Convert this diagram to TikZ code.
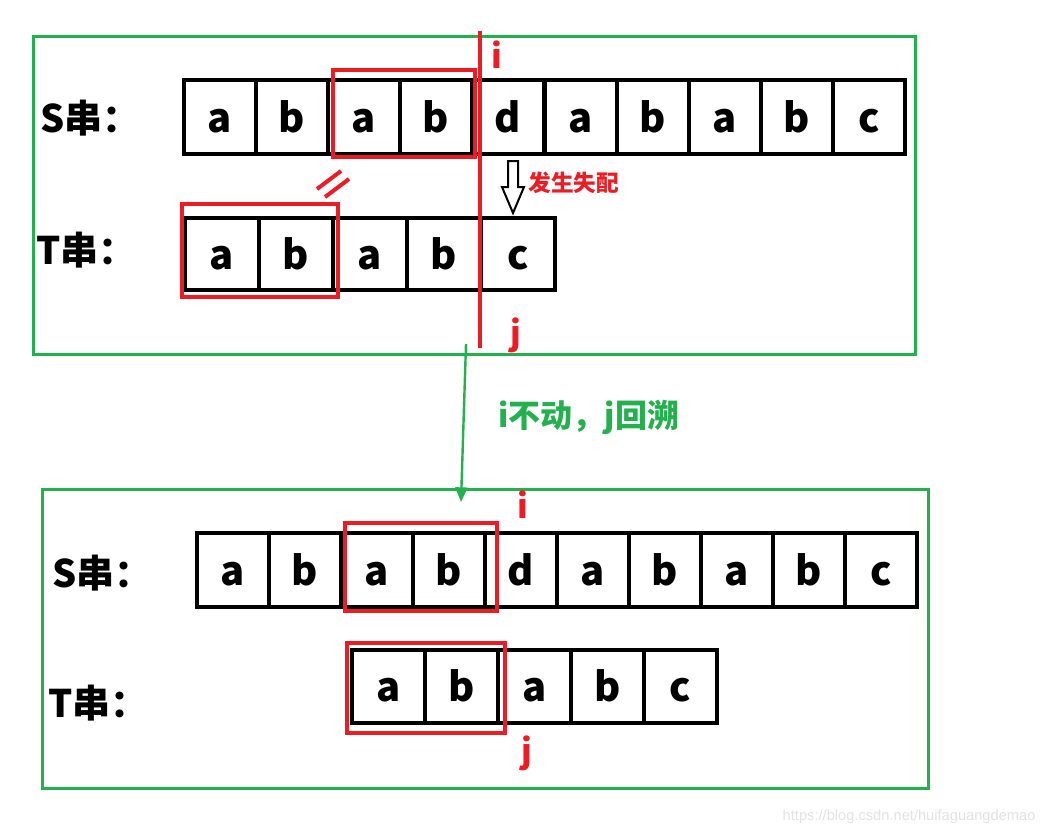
\documentclass[tikz,border=0pt]{standalone}
\usepackage{fontspec}
\setmainfont{Noto Sans CJK SC}
\newfontfamily\markfont{Liberation Sans}
\usetikzlibrary{arrows.meta,calc}

\definecolor{paintred}{RGB}{237,28,36}
\definecolor{paintgreen}{RGB}{34,177,76}
\definecolor{markgray}{RGB}{226,226,226}

\tikzset{every picture/.style={line width=0.75pt}}
\tikzset{
  cell/.style={draw, line width=3pt, minimum width=54pt, minimum height=55.5pt, inner sep=0pt,
    font=\bfseries\fontsize{30}{30}\selectfont, text height=22.5pt, text depth=0pt},
  tcell/.style={cell, minimum width=55.5pt, minimum height=54pt},
  btcell/.style={cell, minimum width=54.75pt, minimum height=54.75pt},
  strlabel/.style={anchor=west, inner sep=0pt, font=\bfseries\fontsize{28.5}{28.5}\selectfont},
  pointer/.style={inner sep=0pt, text=paintred, font=\bfseries\fontsize{25}{25}\selectfont},
  matchbox/.style={draw=paintred, line width=3pt},
  stepframe/.style={draw=paintgreen, line width=2.25pt},
}

\begin{document}
\begin{tikzpicture}[x=0.75pt,y=0.75pt,yscale=-1,xscale=1]
\useasboundingbox (0,0) rectangle (1045,836); %set diagram to the size of the screenshot

%Shape: Rectangle [green frames]
\draw[stepframe] (33,36) rectangle (915,354);
\draw[stepframe] (42,489) rectangle (928,788);

% Text Node
\node[strlabel] (slab) at (40,118) {S串：};
\node[strlabel] (tlab) at (36,250) {T串：};

%S string, before
\node[cell] (s1) at (220,117) {a};
\node[cell] (s2) at (292,117) {b};
\node[cell] (s3) at (364,117) {a};
\node[cell] (s4) at (436,117) {b};
\node[cell] (s5) at (508,117) {d};
\node[cell] (s6) at (581,117) {a};
\node[cell] (s7) at (653,117) {b};
\node[cell] (s8) at (725,117) {a};
\node[cell] (s9) at (797,117) {b};
\node[cell] (s10) at (869,117) {c};

%T string, before
\node[tcell] (t1) at (222,254) {a};
\node[tcell] (t2) at (296,254) {b};
\node[tcell] (t3) at (370,254) {a};
\node[tcell] (t4) at (444,254) {b};
\node[tcell] (t5) at (518,254) {c};

%Shape: Rectangle [matched parts]
\draw[matchbox] (333,70) rectangle (475,157);
\draw[matchbox] (182,204) rectangle (338,297);

%Equal sign
\draw[paintred, line width=3pt] (317,189) -- (341,171);
\draw[paintred, line width=3pt] (325,197) -- (349,179);

%Straight Lines [i position]
\coordinate (itop) at (480,31);
\coordinate (ibot) at (480,348);
\draw[paintred, line width=3pt] (itop) -- (ibot);
\node[pointer] (i1) at (497,55) {i};
\node[pointer] (j1) at (516,335) {j};

%Block arrow [mismatch]
\coordinate (misstop) at ($(s5.south)+(5,5)$);
\coordinate (misstip) at ($(t5.north)+(-5,-3)$);
\draw[line width=1.5pt, fill=white, line join=miter]
  ($(misstop)+(-5,0)$) -- ($(misstop)+(5,0)$) -- ($(misstop)+(5,26)$) -- ($(misstop)+(11,26)$)
  -- (misstip) -- ($(misstop)+(-11,26)$) -- ($(misstop)+(-5,26)$) -- cycle;
\node[anchor=west, inner sep=0pt, text=paintred, font=\bfseries\fontsize{17}{17}\selectfont] (misstxt) at (528,183) {发生失配};

%Curve Lines [to next step]
\coordinate (from) at (466,344);
\coordinate (to) at (461,502);
\draw[paintgreen, line width=1.8pt, -{Triangle[length=11pt,width=9pt]}] (from) -- (to);
\node[anchor=west, inner sep=0pt, text=paintgreen, font=\bfseries\fontsize{24}{24}\selectfont] (move) at (498,417) {i不动，j回溯};

% Text Node
\node[strlabel] (bslab) at (52,573) {S串：};
\node[strlabel] (btlab) at (48,703) {T串：};

%S string, after
\node[cell] (bs1) at (233,570) {a};
\node[cell] (bs2) at (305,570) {b};
\node[cell] (bs3) at (377,570) {a};
\node[cell] (bs4) at (449,570) {b};
\node[cell] (bs5) at (521,570) {d};
\node[cell] (bs6) at (593,570) {a};
\node[cell] (bs7) at (665,570) {b};
\node[cell] (bs8) at (737,570) {a};
\node[cell] (bs9) at (809,570) {b};
\node[cell] (bs10) at (881,570) {c};

%T string, after
\node[btcell] (bt1) at (388.5,686.5) {a};
\node[btcell] (bt2) at (461.5,686.5) {b};
\node[btcell] (bt3) at (534.5,686.5) {a};
\node[btcell] (bt4) at (607.5,686.5) {b};
\node[btcell] (bt5) at (680.5,686.5) {c};

%Shape: Rectangle [matched parts]
\draw[matchbox] (345,523) rectangle (497,611);
\draw[matchbox] (347,643) rectangle (505,733);

\node[pointer] (i2) at (523,505) {i};
\node[pointer] (j2) at (527,753) {j};

% Text Node
\node[anchor=east, inner sep=0pt, text=markgray, font=\markfont\fontsize{11}{11}\selectfont] (mark) at (1036,817) {https://blog.csdn.net/huifaguangdemao};

\end{tikzpicture}
\end{document}
